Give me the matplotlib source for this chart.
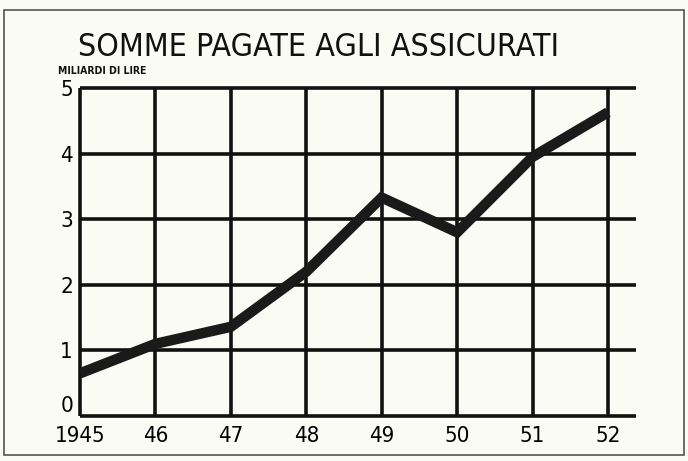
import matplotlib.pyplot as plt
from matplotlib.patches import Rectangle

anni = [1945, 1946, 1947, 1948, 1949, 1950, 1951, 1952]
etichette_x = ['1945', '46', '47', '48', '49', '50', '51', '52']
miliardi = [0.65, 1.1, 1.36, 2.2, 3.33, 2.8, 3.95, 4.63]
tacche_y = [0, 1, 2, 3, 4, 5]

plt.rcParams['font.family'] = ['DejaVu Sans']
plt.rcParams['font.stretch'] = 'condensed'

fig = plt.figure(figsize=(6.88, 4.61), dpi=100)
fig.patch.set_facecolor('#fbfbf6')
# cornice esterna
fig.patches.append(Rectangle((4/688, 1 - 455/461), 680/688, 445/461,
                             transform=fig.transFigure, fill=False,
                             edgecolor='#555555', linewidth=1.2))

ax = fig.add_axes([80/688, 1 - 416/461, 556/688, 328/461])
ax.set_facecolor('none')
x_max = 1945 + (636 - 80) / ((608 - 80) / 7)
ax.set_xlim(1945, x_max)
ax.set_ylim(0, 5)

# griglia spessa
for y in tacche_y:
    ax.hlines(y, 1945, x_max, color='#111111', lw=2.6, clip_on=False, zorder=1)
for x in anni:
    ax.vlines(x, 0, 5, color='#111111', lw=2.6, clip_on=False, zorder=1)

ax.plot(anni, miliardi, color='#1a1a1a', lw=7.5, solid_capstyle='butt',
        solid_joinstyle='miter', zorder=3)

for s in ax.spines.values():
    s.set_visible(False)
ax.tick_params(axis='x', length=0, pad=7)
ax.tick_params(axis='y', length=0, pad=5)
ax.set_xticks(anni)
ax.set_xticklabels(etichette_x, fontsize=16)
ax.set_yticks(tacche_y)
ax.set_yticklabels([str(v) for v in tacche_y], fontsize=16)
# lo "0" sta un po' sopra l'asse, come nell'originale
ax.get_yticklabels()[0].set_verticalalignment('bottom')

fig.text(78/688, 1 - 48/461, 'SOMME PAGATE AGLI ASSICURATI', fontsize=23,
         va='center', ha='left', color='#111111')
fig.text(58/688, 1 - 71/461, 'MILIARDI DI LIRE', fontsize=7.5,
         fontweight='bold', va='center', ha='left', color='#111111')

fig.savefig('out.png', dpi=100, facecolor=fig.get_facecolor())
